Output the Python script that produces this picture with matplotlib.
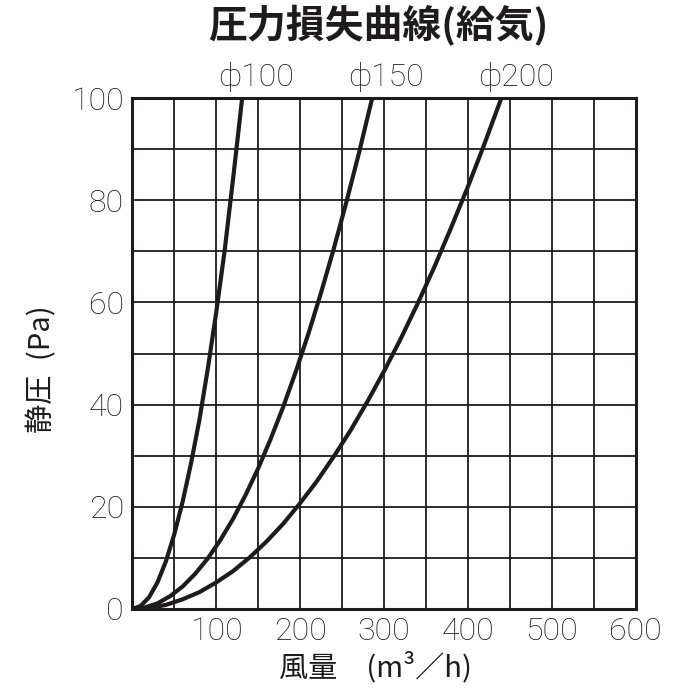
import matplotlib
matplotlib.use('Agg')
import matplotlib.pyplot as plt
import numpy as np

plt.rcParams['font.family'] = ['Noto Sans CJK JP', 'DejaVu Sans']

# air volume (m3/h) and static pressure (Pa) for each duct size
q_100 = [0, 10, 20, 30, 40, 50, 60, 70, 80, 90, 100, 110, 120, 131]
p_100 = [0, 0.6, 2.3, 5.2, 9.3, 14.6, 21, 28.5, 37, 47, 58, 70, 84, 100]
q_150 = [0, 15, 30, 45, 60, 75, 90, 105, 120, 135, 150, 165, 180, 195, 210,
         225, 240, 255, 270, 286]
p_150 = [0, 0.3, 1.1, 2.5, 4.4, 6.9, 9.9, 13.5, 17.6, 22.3, 27.5, 33.3, 39.6,
         46.5, 53.9, 61.9, 70.4, 79.5, 89.1, 100]
q_200 = [0, 20, 40, 60, 80, 100, 120, 140, 160, 180, 200, 220, 240, 260, 280,
         300, 320, 340, 360, 380, 400, 420, 440]
p_200 = [0, 0.2, 0.8, 1.9, 3.3, 5.2, 7.4, 10.1, 13.2, 16.7, 20.7, 25, 29.8,
         34.9, 40.5, 46.5, 52.9, 59.7, 66.9, 74.6, 82.6, 91.1, 100]
curve_names = ['\u03d5100', '\u03d5150', '\u03d5200']

x_ticks = np.arange(0, 601, 50)
x_labels = ['' if (v % 100 or v == 0) else str(v) for v in x_ticks]
y_ticks = np.arange(0, 101, 10)
y_labels = [str(v) if v % 20 == 0 else '' for v in y_ticks]

INK = '#1e1b1c'
NUM_FONT = ['Roboto', 'DejaVu Sans']

fig = plt.figure(figsize=(7, 7), dpi=100)
ax = fig.add_axes([0.189, 0.13, 0.719, 0.73])

series = [(q_100, p_100), (q_150, p_150), (q_200, p_200)]
for q, p in series:
    ax.plot(q, p, color=INK, lw=3.0, solid_joinstyle='round')

ax.set_xlim(0, 600)
ax.set_ylim(0, 100)
ax.set_xticks(x_ticks)
ax.set_xticklabels(x_labels)
ax.set_yticks(y_ticks)
ax.set_yticklabels(y_labels)
ax.tick_params(length=0, colors=INK, pad=6)
for lab in ax.get_xticklabels() + ax.get_yticklabels():
    lab.set_family(NUM_FONT)
    lab.set_fontsize(23)
    lab.set_fontweight('light')
ax.grid(True, color=INK, lw=1.3)
ax.set_axisbelow(True)
for s in ax.spines.values():
    s.set_linewidth(2.2)
    s.set_color(INK)

# labels above the end of each curve
for (q, p), name in zip(series, curve_names):
    ax.text(q[-1] + 17, 101.2, name, ha='center', va='bottom', fontsize=23,
            fontweight='light', color=INK, family=NUM_FONT, clip_on=False)

fig.text(0.54, 0.963, '圧力損失曲線(給気)', ha='center', va='center',
         fontsize=28, fontweight='bold', color=INK)
fig.text(0.536, 0.046, '風量\u3000(m³／h)', ha='center', va='center',
         fontsize=21, color=INK)
fig.text(0.06, 0.472, '静圧\u2002(Pa)', ha='center', va='center', rotation=90,
         fontsize=21, color=INK)

fig.savefig('out.png', dpi=100)
